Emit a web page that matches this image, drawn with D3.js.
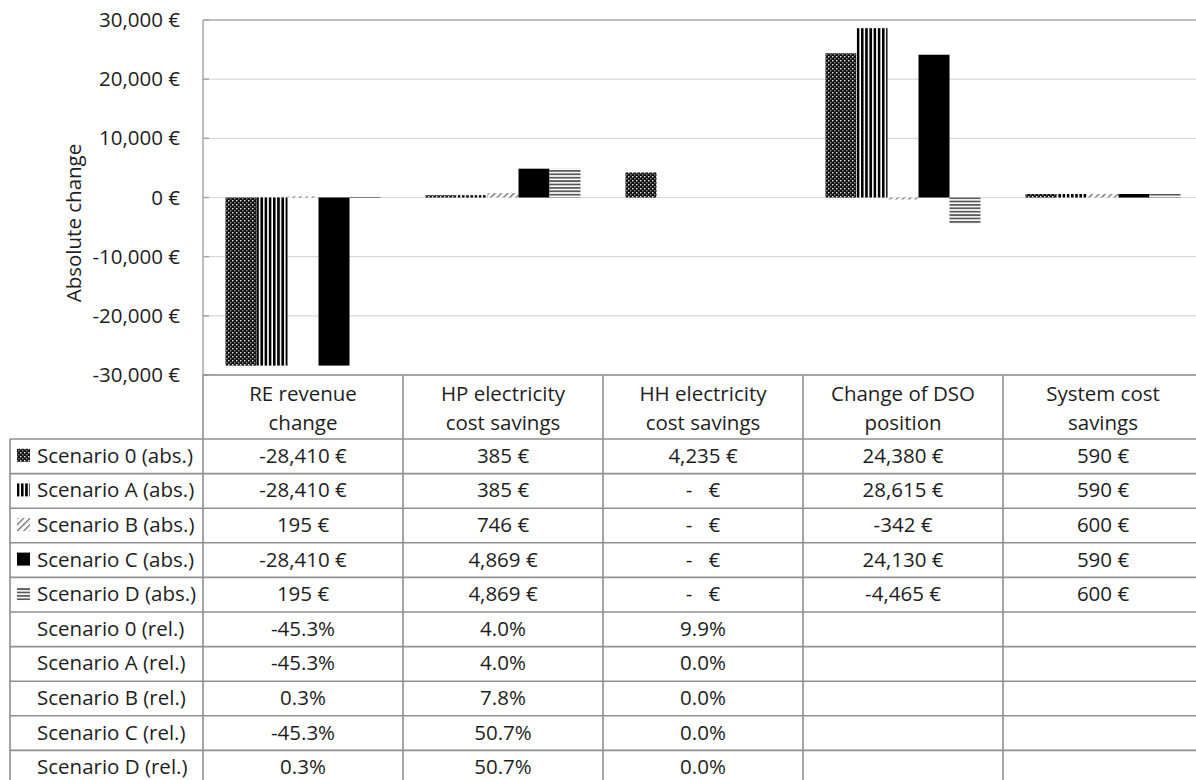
<!DOCTYPE html>
<html>
<head>
<meta charset="utf-8">
<script src="https://cdn.jsdelivr.net/npm/d3@7"></script>
<style>
  body { margin: 0; background: #fff; }
  text { font-family: "Open Sans", "Noto Sans", sans-serif; fill: #1e1e1e; }
</style>
</head>
<body>
<div id="grafica"></div>
<script>
// Categories (the data table columns)
const categories = ["RE revenue change", "HP electricity cost savings", "HH electricity cost savings", "Change of DSO position", "System cost savings"];
// header text, split in two lines like in the original
const headerLines = [["RE revenue", "change"], ["HP electricity", "cost savings"], ["HH electricity", "cost savings"], ["Change of DSO", "position"], ["System cost", "savings"]];

const seriesNames = ["Scenario 0", "Scenario A", "Scenario B", "Scenario C", "Scenario D"];

// absolute values in € (one array per scenario)
const scen0Abs = [-28410, 385, 4235, 24380, 590];
const scenAAbs = [-28410, 385, 0, 28615, 590];
const scenBAbs = [195, 746, 0, -342, 600];
const scenCAbs = [-28410, 4869, 0, 24130, 590];
const scenDAbs = [195, 4869, 0, -4465, 600];

// relative values (only the first three columns have them)
const scen0Rel = [-0.453, 0.040, 0.099, null, null];
const scenARel = [-0.453, 0.040, 0.0, null, null];
const scenBRel = [0.003, 0.078, 0.0, null, null];
const scenCRel = [-0.453, 0.507, 0.0, null, null];
const scenDRel = [0.003, 0.507, 0.0, null, null];

const yTicks = [-30000, -20000, -10000, 0, 10000, 20000, 30000];

const absSeries = [scen0Abs, scenAAbs, scenBAbs, scenCAbs, scenDAbs];
const relSeries = [scen0Rel, scenARel, scenBRel, scenCRel, scenDRel];

// locale with a plain hyphen for negatives
const loc = d3.formatLocale({decimal: ".", thousands: ",", grouping: [3], currency: ["", " €"], minus: "-"});
const fmtEuro = v => v === 0 ? "-   €" : loc.format(",.0f")(v) + " €";
const fmtPct = v => v === null ? "" : loc.format(".1%")(v);

const W = 1196, H = 780;
const plotLeft = 203, plotRight = 1203, plotTop = 20, plotBottom = 375;
const fontSize = 20.5;

var svg = d3.select("#grafica")
  .append("svg")
  .attr("width", W)
  .attr("height", H);

// fill patterns for the scenarios
var defs = svg.append("defs");

var p0 = defs.append("pattern").attr("id", "pat0")
  .attr("patternUnits", "userSpaceOnUse").attr("width", 4).attr("height", 4);
p0.append("rect").attr("width", 4).attr("height", 4).attr("fill", "#141414");
p0.append("rect").attr("x", 0).attr("y", 0).attr("width", 1.4).attr("height", 1.4).attr("fill", "#e8e8e8");
p0.append("rect").attr("x", 2).attr("y", 2).attr("width", 1.4).attr("height", 1.4).attr("fill", "#8a8a8a");

var pA = defs.append("pattern").attr("id", "patA")
  .attr("patternUnits", "userSpaceOnUse").attr("width", 4.2).attr("height", 10);
pA.append("rect").attr("width", 4.2).attr("height", 10).attr("fill", "#fff");
pA.append("rect").attr("x", 0).attr("width", 2.6).attr("height", 10).attr("fill", "#000");

var pB = defs.append("pattern").attr("id", "patB")
  .attr("patternUnits", "userSpaceOnUse").attr("width", 4.5).attr("height", 4.5)
  .attr("patternTransform", "rotate(45)");
pB.append("rect").attr("width", 4.5).attr("height", 4.5).attr("fill", "#fff");
pB.append("rect").attr("x", 0).attr("width", 1.3).attr("height", 4.5).attr("fill", "#6e6e6e");

var pD = defs.append("pattern").attr("id", "patD")
  .attr("patternUnits", "userSpaceOnUse").attr("width", 6).attr("height", 3.4);
pD.append("rect").attr("width", 6).attr("height", 3.4).attr("fill", "#fff");
pD.append("rect").attr("y", 0).attr("width", 6).attr("height", 1.8).attr("fill", "#5a5a5a");

const fills = ["url(#pat0)", "url(#patA)", "url(#patB)", "#000", "url(#patD)"];

// scales
var x0 = d3.scaleBand().domain(categories).range([plotLeft, plotRight]);
var x1 = d3.scaleBand().domain(seriesNames).range([0, x0.bandwidth()]).paddingOuter(0.725);
var y = d3.scaleLinear().domain([-30000, 30000]).range([plotBottom, plotTop]);

// gridlines
svg.append("g")
  .selectAll("line")
  .data(yTicks)
  .join("line")
  .attr("x1", plotLeft)
  .attr("x2", plotRight)
  .attr("y1", d => y(d))
  .attr("y2", d => y(d))
  .attr("stroke", d => d === 30000 ? "#a8a8a8" : "#d9d9d9")
  .attr("stroke-width", d => d === 30000 ? 1.5 : 1.2);

// bars
var barData = [];
absSeries.forEach((vals, s) => {
  vals.forEach((v, c) => barData.push({s: s, c: c, v: v}));
});

svg.append("g")
  .selectAll("rect")
  .data(barData.filter(d => d.v !== 0))
  .join("rect")
  .attr("x", d => x0(categories[d.c]) + x1(seriesNames[d.s]))
  .attr("width", x1.bandwidth())
  .attr("y", d => y(Math.max(0, d.v)))
  .attr("height", d => Math.max(1.5, Math.abs(y(d.v) - y(0))))
  .attr("fill", d => fills[d.s]);

// y axis
var yAxis = d3.axisLeft(y)
  .tickValues(yTicks)
  .tickFormat(d => loc.format(",.0f")(d) + " €")
  .tickSize(0)
  .tickPadding(23);

var gy = svg.append("g")
  .attr("transform", `translate(${plotLeft},0)`)
  .call(yAxis);
gy.select(".domain").remove();
gy.selectAll("text")
  .attr("font-size", fontSize)
  .attr("font-family", "'Open Sans', sans-serif")
  .attr("fill", "#1e1e1e");

// small tick marks inside the axis
svg.append("g")
  .selectAll("line")
  .data(yTicks)
  .join("line")
  .attr("x1", plotLeft)
  .attr("x2", plotLeft + 6)
  .attr("y1", d => y(d))
  .attr("y2", d => y(d))
  .attr("stroke", "#a8a8a8")
  .attr("stroke-width", 1.5);

svg.append("line")
  .attr("x1", plotLeft).attr("x2", plotLeft)
  .attr("y1", plotTop).attr("y2", plotBottom)
  .attr("stroke", "#a8a8a8").attr("stroke-width", 1.5);

// axis title (sits a bit lower than the middle in the original)
svg.append("text")
  .attr("transform", "translate(73,223) rotate(-90)")
  .attr("text-anchor", "middle")
  .attr("dominant-baseline", "central")
  .attr("font-size", fontSize)
  .text("Absolute change");

// ---- data table ----
const headerBottom = 439;
const rowH = 34.6;
const labelLeft = 10;
const nRows = 10;
const tableBottom = headerBottom + rowH * nRows;

var table = svg.append("g");

// horizontal lines
var hLines = [{y: plotBottom, x1: plotLeft}];
for (let i = 0; i <= nRows; i++) hLines.push({y: headerBottom + i * rowH, x1: labelLeft});
table.selectAll("line.h")
  .data(hLines)
  .join("line")
  .attr("class", "h")
  .attr("x1", d => d.x1)
  .attr("x2", plotRight)
  .attr("y1", d => d.y)
  .attr("y2", d => d.y)
  .attr("stroke", "#8f8f8f")
  .attr("stroke-width", 1.6);

// vertical lines
var vLines = categories.map(c => ({x: x0(c), y1: plotBottom}));
vLines.push({x: labelLeft, y1: headerBottom});
table.selectAll("line.v")
  .data(vLines)
  .join("line")
  .attr("class", "v")
  .attr("x1", d => d.x)
  .attr("x2", d => d.x)
  .attr("y1", d => d.y1)
  .attr("y2", tableBottom)
  .attr("stroke", "#8f8f8f")
  .attr("stroke-width", 1.6);

// header text
categories.forEach((c, i) => {
  headerLines[i].forEach((line, k) => {
    table.append("text")
      .attr("x", x0(c) + x0.bandwidth() / 2)
      .attr("y", 393 + k * 29)
      .attr("text-anchor", "middle")
      .attr("dominant-baseline", "central")
      .attr("font-size", fontSize)
      .text(line);
  });
});

// rows: first the absolute ones (with legend key), then relative
var rows = [];
seriesNames.forEach((s, i) => rows.push({label: s + " (abs.)", key: fills[i], cells: absSeries[i].map(fmtEuro)}));
seriesNames.forEach((s, i) => rows.push({label: s + " (rel.)", key: null, cells: relSeries[i].map(fmtPct)}));

rows.forEach((r, i) => {
  const cy = headerBottom + i * rowH + rowH / 2 - 1.5;
  if (r.key) {
    table.append("rect")
      .attr("x", 17)
      .attr("y", cy - 6)
      .attr("width", 13)
      .attr("height", 13)
      .attr("fill", r.key);
  }
  table.append("text")
    .attr("x", 37)
    .attr("y", cy)
    .attr("dominant-baseline", "central")
    .attr("font-size", fontSize)
    .text(r.label);
  r.cells.forEach((t, c) => {
    table.append("text")
      .attr("x", x0(categories[c]) + x0.bandwidth() / 2)
      .attr("y", cy)
      .attr("text-anchor", "middle")
      .attr("dominant-baseline", "central")
      .attr("font-size", fontSize)
      .style("white-space", "pre")
      .text(t);
  });
});
</script>
</body>
</html>
